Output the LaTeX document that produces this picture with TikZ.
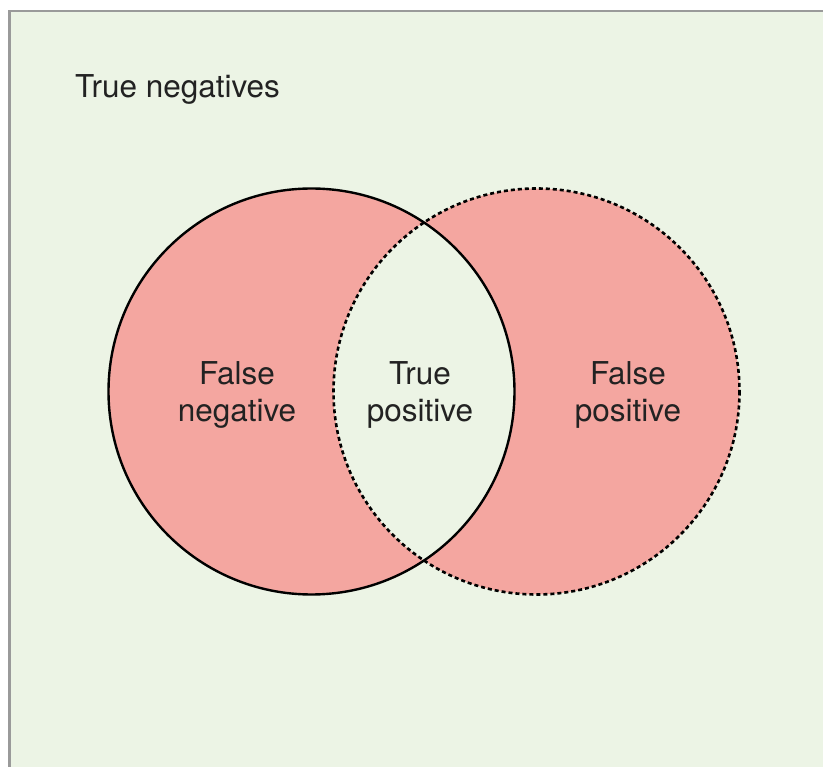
\documentclass[tikz,border=0pt]{standalone}
\usepackage{fontspec}
\setmainfont{TeX Gyre Heros}
\definecolor{bggreen}{HTML}{ECF4E5}
\definecolor{vpink}{HTML}{F4A6A0}
\definecolor{framegray}{HTML}{9A9A9A}
\definecolor{txt}{HTML}{222222}
\tikzset{
  lbl/.style={text=txt, align=center, font=\fontsize{31.5pt}{37pt}\selectfont, inner sep=0pt},
  solidring/.style={draw=black, line width=2.4pt},
  dashring/.style={draw=black, line width=2.6pt, dash pattern=on 4pt off 3pt}
}
\begin{document}
\begin{tikzpicture}[x=1pt,y=-1pt]
\useasboundingbox (0,0) rectangle (823,767);
\clip (0,0) rectangle (823,767);
\fill[white] (0,0) rectangle (823,767);
\draw[fill=bggreen, draw=framegray, line width=2.2pt] (9.5,11) rectangle (840,790);
\coordinate (L) at (311.5,391.5);
\coordinate (R) at (536.5,391.5);
\fill[vpink] (L) circle[radius=203];
\fill[vpink] (R) circle[radius=203];
\begin{scope}
  \clip (L) circle[radius=203];
  \fill[bggreen] (R) circle[radius=203];
\end{scope}
\draw[dashring] (R) circle[radius=203];
\draw[solidring] (L) circle[radius=203];
\node[lbl, anchor=base west] (tn) at (75,98) {True negatives};
\node[lbl] (fn) at (237,395) {False\\negative};
\node[lbl] (tp) at (420,395) {True\\positive};
\node[lbl] (fp) at (628,395) {False\\positive};
\end{tikzpicture}
\end{document}
